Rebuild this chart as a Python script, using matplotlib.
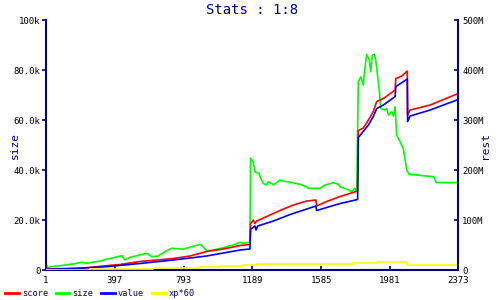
import matplotlib
matplotlib.use("Agg")
import matplotlib.pyplot as plt
from matplotlib.ticker import FixedLocator

# ---- data (x = sample index) ----
size_x = [1, 14, 24, 82, 156, 207, 235, 272, 312, 350, 387, 437, 456, 485, 542, 581, 610, 646,
          696, 725, 790, 818, 888, 905, 926, 962, 1020, 1078, 1118, 1135, 1175, 1179, 1194, 1204,
          1227, 1237, 1252, 1271, 1281, 1300, 1310, 1348, 1387, 1425, 1463, 1502, 1511, 1578,
          1607, 1655, 1684, 1694, 1732, 1761, 1780, 1790, 1799, 1813, 1828, 1833, 1847, 1862,
          1870, 1880, 1891, 1899, 1914, 1920, 1928, 1953, 1963, 1972, 1992, 2001, 2011, 2020,
          2049, 2059, 2078, 2091, 2235, 2246, 2373]
size_k = [2.4, 0.7, 1.3, 1.7, 2.4, 3.1, 2.7, 3.1, 3.6, 4.3, 4.9, 5.7, 4.0, 5.1, 6.0, 6.7, 5.3, 5.6,
          7.7, 8.7, 8.3, 8.9, 10.3, 9.3, 7.7, 8.0, 8.9, 10.0, 11.1, 10.7, 11.1, 44.7, 43.3, 39.3,
          38.7, 36.7, 34.7, 34.0, 35.3, 34.7, 34.0, 36.0, 35.3, 34.9, 34.3, 33.3, 32.7, 32.7,
          34.0, 34.9, 34.3, 33.3, 32.4, 31.3, 32.7, 31.6, 75.3, 77.3, 74.0, 78.3, 86.3, 84.0,
          79.3, 86.0, 86.3, 84.3, 75.3, 72.0, 64.7, 64.0, 64.7, 62.0, 63.3, 61.6, 65.3, 54.0,
          50.0, 48.3, 40.0, 38.3, 37.3, 35.0, 35.0]

score_x = [1, 178, 254, 331, 427, 542, 638, 734, 830, 926, 1022, 1118, 1175, 1179, 1194, 1204,
           1214, 1271, 1348, 1425, 1502, 1555, 1559, 1617, 1694, 1795, 1799, 1828, 1857, 1885,
           1905, 1943, 2011, 2015, 2049, 2081, 2083, 2097, 2212, 2373]
score_m = [2, 3.3, 5, 8, 11, 17, 20, 23, 28, 37, 42, 49, 51, 92, 100, 93,
           98, 107, 119, 130, 138, 140, 128, 137, 147, 158, 279, 284, 300, 317,
           337, 343, 360, 383, 388, 398, 310, 320, 330, 353]

value_x = [1, 14, 178, 350, 542, 734, 926, 1118, 1175, 1179, 1204, 1210, 1220, 1310, 1406, 1555,
           1559, 1694, 1795, 1799, 1857, 1885, 1905, 1943, 2011, 2015, 2081, 2083, 2097, 2212, 2373]
value_m = [1, 1.3, 3.3, 6.7, 13, 20, 28, 40, 42, 81, 88, 80, 88, 98, 111, 128,
           119, 133, 141, 265, 290, 307, 323, 330, 347, 367, 382, 297, 308, 320, 341]

xp_x = [1, 254, 619, 888, 1003, 1137, 1214, 1770, 1905, 2078, 2373]
xp_m = [0, 2, 4.7, 6.7, 8.7, 10.7, 12, 13.3, 15.3, 10, 10]

x_ticks = [1, 397, 793, 1189, 1585, 1981, 2373]
left_ticks = [0, 20, 40, 60, 80, 100]
left_labels = ["0", "20.0k", "40.0k", "60.0k", "80.0k", "100k"]
right_ticks = [0, 100, 200, 300, 400, 500]
right_labels = ["0", "100M", "200M", "300M", "400M", "500M"]

NAVY = "#000080"
MONO = "DejaVu Sans Mono"

fig = plt.figure(figsize=(5, 3), dpi=100)
ax = fig.add_axes([0.092, 0.1, 0.824, 0.833])
ax2 = ax.twinx()

l_size, = ax.plot(size_x, size_k, color="#00ff00", lw=1.2, label="size")
l_score, = ax2.plot(score_x, score_m, color="#ff0000", lw=1.2, label="score")
l_value, = ax2.plot(value_x, value_m, color="#0000ff", lw=1.2, label="value")
l_xp, = ax2.plot(xp_x, xp_m, color="#ffff00", lw=1.2, drawstyle="steps-post", label="xp*60")

ax.set_xlim(1, 2373)
ax.set_ylim(0, 100)
ax2.set_ylim(0, 500)

for a in (ax, ax2):
    for s in a.spines.values():
        s.set_visible(False)
ax.spines["left"].set_visible(True)
ax.spines["bottom"].set_visible(True)
ax2.spines["right"].set_visible(True)
for s in (ax.spines["left"], ax.spines["bottom"], ax2.spines["right"]):
    s.set_color(NAVY)
    s.set_linewidth(1.5)

ax.xaxis.set_major_locator(FixedLocator(x_ticks))
ax.set_xticklabels([str(v) for v in x_ticks])
ax.set_yticks(left_ticks)
ax.set_yticklabels(left_labels)
ax2.set_yticks(right_ticks)
ax2.set_yticklabels(right_labels)

ax.tick_params(axis="x", direction="in", length=3, width=1.2, color=NAVY, pad=4,
               labelsize=6.5, labelcolor="black")
ax.tick_params(axis="y", direction="out", length=3, width=1.2, color=NAVY, pad=1,
               labelsize=6.5, labelcolor="black")
ax2.tick_params(axis="y", direction="in", length=3, width=1.2, color=NAVY, pad=3,
                labelsize=6.5, labelcolor="black")
for lab in ax.get_xticklabels() + ax.get_yticklabels() + ax2.get_yticklabels():
    lab.set_family(MONO)

ax.set_ylabel("size", color=NAVY, family=MONO, fontsize=8)
ax.yaxis.set_label_coords(-0.063, 0.5)
ax2.set_ylabel("rest", color=NAVY, family=MONO, fontsize=8)
ax2.yaxis.set_label_coords(1.053, 0.5)

fig.text(0.504, 0.965, "Stats : 1:8", color=NAVY, family=MONO, fontsize=10,
         ha="center", va="center")

leg = fig.legend(handles=[l_score, l_size, l_value, l_xp], loc="lower left",
                 bbox_to_anchor=(0.008, 0.003), ncol=4, frameon=False, borderaxespad=0.0,
                 borderpad=0.1, handlelength=1.6, handletextpad=0.35, columnspacing=0.9,
                 prop={"family": MONO, "size": 6.2})
for t in leg.get_texts():
    t.set_color(NAVY)
for h in leg.legend_handles:
    h.set_linewidth(2)

fig.savefig("out.png", dpi=100)
